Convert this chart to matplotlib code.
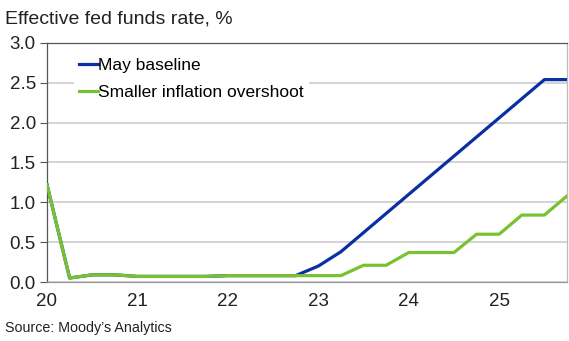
import matplotlib
matplotlib.use('Agg')
import matplotlib.pyplot as plt
import numpy as np

plt.rcParams['font.family'] = ['Liberation Sans', 'DejaVu Sans']

# quarterly, 2020Q1 .. 2025Q4
quarters = np.arange(24) / 4 + 20
may_baseline = [1.22, 0.05, 0.09, 0.09, 0.07, 0.07, 0.07, 0.07,
                0.08, 0.08, 0.08, 0.08, 0.20, 0.38, 0.62, 0.86,
                1.10, 1.34, 1.58, 1.82, 2.06, 2.30, 2.54, 2.54]
smaller_overshoot = [1.22, 0.05, 0.09, 0.09, 0.07, 0.07, 0.07, 0.07,
                     0.08, 0.08, 0.08, 0.08, 0.08, 0.08, 0.21, 0.21,
                     0.37, 0.37, 0.37, 0.60, 0.60, 0.84, 0.84, 1.08]
year_ticks = [20, 21, 22, 23, 24, 25]
tick_marks = [20, 23]   # only these carry a tick mark in the original
y_ticks = [0.0, 0.5, 1.0, 1.5, 2.0, 2.5, 3.0]

fig = plt.figure(figsize=(5.69, 3.41), dpi=100)
ax = fig.add_axes([0.0826, 0.173, 0.9139, 0.701])

ax.plot(quarters, may_baseline, color='#0a2fa0', lw=2.3, label='May baseline', zorder=3)
ax.plot(quarters, smaller_overshoot, color='#78c232', lw=2.3, label='Smaller inflation overshoot', zorder=4)

ax.set_xlim(20, 25.75)
ax.set_ylim(0, 3.0)
ax.set_xticks(year_ticks)
ax.set_xticklabels([str(y) for y in year_ticks])
ax.set_xticks(tick_marks, minor=True)
ax.set_yticks(y_ticks)
ax.set_yticklabels([f'{v:.1f}' for v in y_ticks])
ax.tick_params(axis='y', labelsize=13.5, length=5, width=0.8, color='#555555', labelcolor='#222222', pad=3)
ax.tick_params(axis='x', which='major', labelsize=13.5, length=0, labelcolor='#222222', pad=8)
ax.tick_params(axis='x', which='minor', length=5, width=0.8, color='#555555')

ax.grid(axis='y', color='#cccccc', lw=1.2, zorder=0)
ax.spines['left'].set_color('#555555')
ax.spines['bottom'].set_color('#999999')
ax.spines['top'].set_color('#555555')
ax.spines['right'].set_color('#bbbbbb')
for s in ax.spines.values():
    s.set_linewidth(0.9)

leg = ax.legend(loc='upper left', bbox_to_anchor=(0.035, 0.995), frameon=True, fontsize=12.5,
                handlelength=1.1, handletextpad=0.0, labelspacing=0.65, borderpad=0.3)
leg.get_frame().set_edgecolor('none')
leg.get_frame().set_facecolor('white')
leg.get_frame().set_alpha(1)

fig.text(0.009, 0.945, 'Effective fed funds rate, %', fontsize=14, color='#222222', va='center')
fig.text(0.009, 0.038, 'Source: Moody\u2019s Analytics', fontsize=10.3, color='#222222', va='center')

fig.savefig('out.png', dpi=100)
